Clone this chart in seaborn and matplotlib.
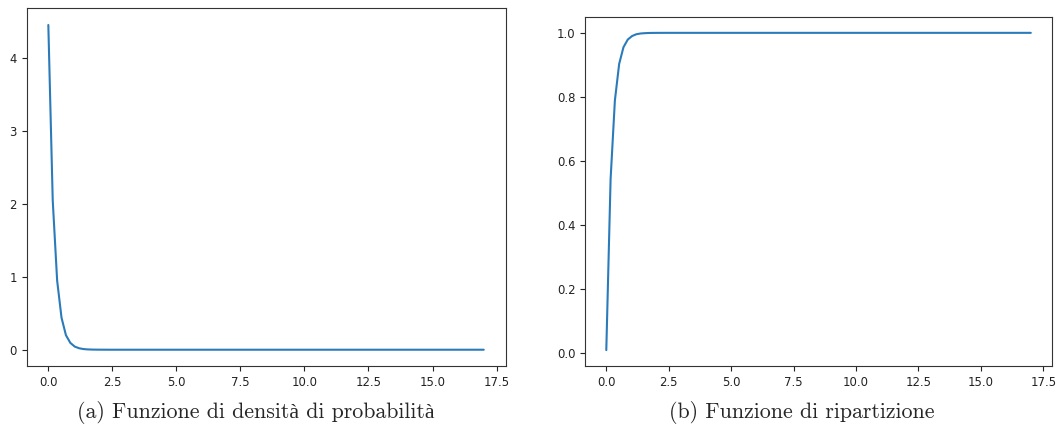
import matplotlib
matplotlib.use("Agg")
import matplotlib.pyplot as plt
import seaborn as sns

# Exponential distribution sampled on [0, 17]: density and cumulative distribution
x_vals = [0.002, 0.174, 0.346, 0.517, 0.689, 0.861, 1.033, 1.204, 1.376,
          1.548, 1.720, 1.891, 2.063, 2.40, 5.0, 10.0, 17.0]
pdf_vals = [4.46, 2.05, 0.95, 0.44, 0.20, 0.094, 0.043, 0.020, 0.009,
            0.004, 0.002, 0.001, 0.0005, 0.0, 0.0, 0.0, 0.0]
cdf_vals = [0.010, 0.543, 0.789, 0.903, 0.955, 0.979, 0.990, 0.9956, 0.998,
            0.999, 0.9996, 0.9998, 0.9999, 1.0, 1.0, 1.0, 1.0]

x_ticks = [0.0, 2.5, 5.0, 7.5, 10.0, 12.5, 15.0, 17.5]
pdf_ticks = [0, 1, 2, 3, 4]
cdf_ticks = [0.0, 0.2, 0.4, 0.6, 0.8, 1.0]

captions = ["(a) Funzione di densità di probabilità",
            "(b) Funzione di ripartizione"]

sns.set_style("ticks")
plt.rcParams.update({
    "axes.edgecolor": "#333333",
    "axes.linewidth": 0.8,
    "xtick.labelsize": 8.4,
    "ytick.labelsize": 8.4,
    "xtick.major.size": 3.5,
    "ytick.major.size": 3.5,
    "xtick.color": "#222222",
    "ytick.color": "#222222",
})
plt.rcParams["font.family"] = ["DejaVu Sans"]

fig = plt.figure(figsize=(10.6, 4.32), dpi=100)
ax1 = fig.add_axes([0.025, 0.1528, 0.4519, 0.8287])
ax2 = fig.add_axes([0.5519, 0.1528, 0.4406, 0.8079])

line_color = "#2b7bba"
sns.lineplot(x=x_vals, y=pdf_vals, ax=ax1, color=line_color, linewidth=1.5)
sns.lineplot(x=x_vals, y=cdf_vals, ax=ax2, color=line_color, linewidth=1.5)

ax1.set_xticks(x_ticks)
ax1.set_yticks(pdf_ticks)
ax2.set_xticks(x_ticks)
ax2.set_yticks(cdf_ticks)
ax2.set_yticklabels([f"{t:.1f}" for t in cdf_ticks])
ax1.set_xticklabels([f"{t:.1f}" for t in x_ticks])
ax2.set_xticklabels([f"{t:.1f}" for t in x_ticks])

for ax in (ax1, ax2):
    ax.set_xlim(-0.85, 17.85)
    for s in ax.spines.values():
        s.set_visible(True)
ax1.set_ylim(-0.2235, 4.6935)
ax2.set_ylim(-0.0395, 1.0495)

# Computer Modern for the captions; accented letters come from Liberation Serif
serif = ["cmr10", "Liberation Serif"]
fig.text(256 / 1060, 1 - 412 / 432, captions[0], ha="center", va="center",
         fontsize=15.8, family=serif)
fig.text(802 / 1060, 1 - 412 / 432, captions[1], ha="center", va="center",
         fontsize=15.8, family=serif)

fig.savefig("out.png", dpi=100)
